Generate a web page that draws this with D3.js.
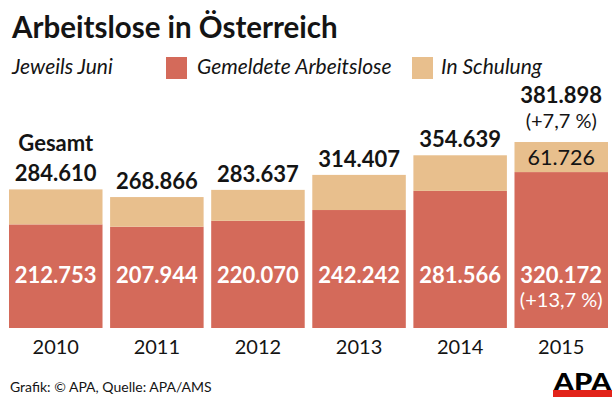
<!DOCTYPE html>
<html><head><meta charset="utf-8">
<script src="https://cdn.jsdelivr.net/npm/d3@7"></script>
<style>body{margin:0;background:#fff}svg{display:block}text{font-family:Lato,"Open Sans",sans-serif}</style>
</head><body>
<script>
const years = ["2010","2011","2012","2013","2014","2015"];
const gemeldet = [212753, 207944, 220070, 242242, 281566, 320172];
const schulung = [71857, 60922, 63567, 72165, 73073, 61726];
const totalLabels = ["284.610","268.866","283.637","314.407","354.639","381.898"];
const gemeldetLabels = ["212.753","207.944","220.070","242.242","281.566","320.172"];
const schulungLabel2015 = "61.726";
const changeTotal = "(+7,7 %)";
const changeGemeldet = "(+13,7 %)";

const W = 616, H = 405;
const RED = "#d46a5a", TAN = "#e8bf8d", INK = "#141414";
const svg = d3.select("body").append("svg").attr("width", W).attr("height", H);

const x = d3.scaleBand().domain(years).range([9, 608]).paddingInner(0.075).paddingOuter(0);
const y = d3.scaleLinear().domain([0, 400000]).range([328, 328 - 194.8]);

const data = years.map((yr, i) => ({yr, g: gemeldet[i], s: schulung[i], t: gemeldet[i] + schulung[i], i}));

// title
svg.append("text").attr("x", 12).attr("y", 38).attr("font-size", 29.5).attr("font-weight", 700)
  .attr("fill", INK).text("Arbeitslose in Österreich");
// subtitle / legend
svg.append("text").attr("x", 12).attr("y", 74).attr("font-size", 21).attr("font-style", "italic")
  .attr("fill", INK).text("Jeweils Juni");
svg.append("rect").attr("x", 166).attr("y", 57).attr("width", 21).attr("height", 22).attr("fill", RED);
svg.append("text").attr("x", 197).attr("y", 74).attr("font-size", 21).attr("font-style", "italic")
  .attr("fill", INK).text("Gemeldete Arbeitslose");
svg.append("rect").attr("x", 412).attr("y", 57).attr("width", 21).attr("height", 22).attr("fill", TAN);
svg.append("text").attr("x", 441).attr("y", 74).attr("font-size", 21).attr("font-style", "italic")
  .attr("fill", INK).text("In Schulung");

// bars
const g = svg.append("g");
g.selectAll("rect.g").data(data).join("rect").attr("class", "g")
  .attr("x", d => x(d.yr)).attr("width", x.bandwidth())
  .attr("y", d => y(d.g)).attr("height", d => y(0) - y(d.g)).attr("fill", RED);
g.selectAll("rect.s").data(data).join("rect").attr("class", "s")
  .attr("x", d => x(d.yr)).attr("width", x.bandwidth())
  .attr("y", d => y(d.t)).attr("height", d => y(d.g) - y(d.t)).attr("fill", TAN);

const cx = d => x(d.yr) + x.bandwidth() / 2;

// totals
g.selectAll("text.tot").data(data).join("text").attr("class", "tot")
  .attr("x", cx).attr("y", d => d.i === 5 ? y(d.t) - 39 : y(d.t) - 8)
  .attr("text-anchor", "middle").attr("font-size", 22).attr("font-weight", 700).attr("fill", INK)
  .text(d => totalLabels[d.i]);
svg.append("text").attr("x", cx(data[0])).attr("y", y(data[0].t) - 38)
  .attr("text-anchor", "middle").attr("font-size", 22).attr("font-weight", 700).attr("fill", INK).text("Gesamt");
svg.append("text").attr("x", cx(data[5])).attr("y", y(data[5].t) - 14)
  .attr("text-anchor", "middle").attr("font-size", 20).attr("fill", INK).text(changeTotal);
svg.append("text").attr("x", cx(data[5])).attr("y", (y(data[5].t) + y(data[5].g)) / 2 + 8)
  .attr("text-anchor", "middle").attr("font-size", 21.5).attr("fill", INK).text(schulungLabel2015);

// inside red
g.selectAll("text.gv").data(data).join("text").attr("class", "gv")
  .attr("x", cx).attr("y", 283)
  .attr("text-anchor", "middle").attr("font-size", 22).attr("font-weight", 700).attr("fill", "#fff")
  .text(d => gemeldetLabels[d.i]);
svg.append("text").attr("x", cx(data[5])).attr("y", 307)
  .attr("text-anchor", "middle").attr("font-size", 20).attr("fill", "#fff").text(changeGemeldet);

// x axis labels
const ax = svg.append("g").attr("transform", `translate(0,${y(0)})`)
  .call(d3.axisBottom(x).tickSize(0).tickPadding(12));
ax.select(".domain").remove();
ax.selectAll("text").attr("font-size", 20).attr("fill", INK).attr("font-family", "Lato, sans-serif");

// footer
svg.append("text").attr("x", 10).attr("y", 392).attr("font-size", 14).attr("fill", INK)
  .text("Grafik: © APA, Quelle: APA/AMS");
// APA logo
svg.append("text").attr("x", 582.5).attr("y", 391).attr("text-anchor", "middle").attr("font-size", 25)
  .attr("font-weight", 900).attr("fill", "#000").attr("font-family", "Lato, sans-serif")
  .attr("textLength", 58).attr("lengthAdjust", "spacingAndGlyphs").text("APA");
svg.append("rect").attr("x", 553).attr("y", 390).attr("width", 59).attr("height", 7).attr("fill", "#e2231a");
</script>
</body></html>
